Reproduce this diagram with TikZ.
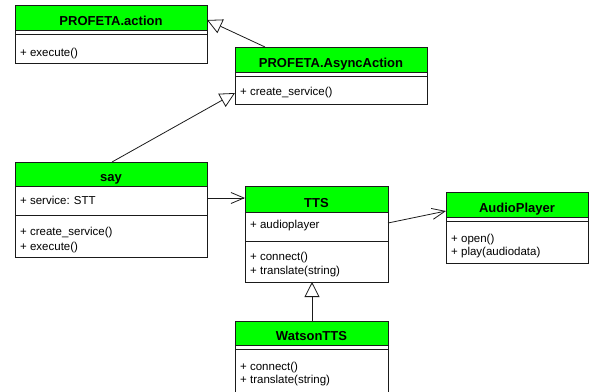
\documentclass[tikz,border=0pt]{standalone}
\usepackage{fontspec}
\setmainfont{Liberation Sans}
\usetikzlibrary{arrows.meta,fit}
\definecolor{hdrgreen}{HTML}{00FF00}
\definecolor{rule}{HTML}{1A1A1A}

\tikzset{
  box/.style={draw=rule, line width=0.9pt, inner sep=0pt, outer sep=0pt},
  hdr/.style={fill=hdrgreen},
  sep/.style={draw=rule, line width=0.9pt},
  title/.style={anchor=base, inner sep=0pt, font=\fontsize{13}{15}\selectfont\bfseries},
  member/.style={anchor=base west, inner sep=0pt, font=\fontsize{11.5}{14}\selectfont},
  inherit/.style={draw=rule, line width=0.8pt, -{Triangle[open, length=15pt, width=15pt, fill=white]}},
  assoc/.style={draw=rule, line width=0.8pt, -{Straight Barb[length=13pt, width=11pt]}},
}

% #1 name, #2 x1, #3 y1, #4 x2, #5 y2, #6 header bottom, #7 attribute bottom, #8 title
\newcommand{\umlclass}[8]{%
  \fill[hdr] (#2,#3) rectangle (#4,#6);
  \draw[sep] (#2,#6) -- (#4,#6) (#2,#7) -- (#4,#7);
  \node[box, fit={(#2,#3) (#4,#5)}] (#1) {};
  \node[title] (#1-title) at ({(#2+#4)/2},{#6-5}) {#8};
}

\begin{document}
\begin{tikzpicture}[x=1pt, y=-1pt]
\useasboundingbox (0,0) rectangle (589,391);

% classes
\umlclass{action}{15}{5}{207}{63}{30}{34}{PROFETA.action}
\node[member] (action-m1) at (20,56) {+ execute()};

\umlclass{async}{235}{47}{427}{104}{72}{76}{PROFETA.AsyncAction}
\node[member] (async-m1) at (240,95.5) {+ create\_service()};

\umlclass{say}{15}{162}{207}{257}{186}{215}{say}
\node[member] (say-a1) at (20,204.5) {+ service: STT};
\node[member] (say-m1) at (20,235.5) {+ create\_service()};
\node[member] (say-m2) at (20,250) {+ execute()};

\umlclass{tts}{245}{186}{388}{282}{212}{241}{TTS}
\node[member] (tts-a1) at (250,228) {+ audioplayer};
\node[member] (tts-m1) at (250,260.5) {+ connect()};
\node[member] (tts-m2) at (250,274) {+ translate(string)};

\umlclass{audio}{446}{192}{588}{263}{217}{221}{AudioPlayer}
\node[member] (audio-m1) at (451,242) {+ open()};
\node[member] (audio-m2) at (451,255) {+ play(audiodata)};

\umlclass{watson}{235}{321}{388}{400}{345}{349}{WatsonTTS}
\node[member] (watson-m1) at (240,370) {+ connect()};
\node[member] (watson-m2) at (240,383) {+ translate(string)};

% generalisations
\draw[inherit] ([xshift=30pt]async.north west) -- ([yshift=-15pt]action.north east);
\draw[inherit] ([xshift=97pt]say.north west) -- ([yshift=-46pt]async.north west);
\draw[inherit] ([xshift=77pt]watson.north west) -- ([xshift=67pt]tts.south west);

% associations
\draw[assoc] ([yshift=-36pt]say.north east) -- ([yshift=-12pt]tts.north west);
\draw[assoc] ([yshift=-37pt]tts.north east) -- ([yshift=-19pt]audio.north west);
\end{tikzpicture}
\end{document}
